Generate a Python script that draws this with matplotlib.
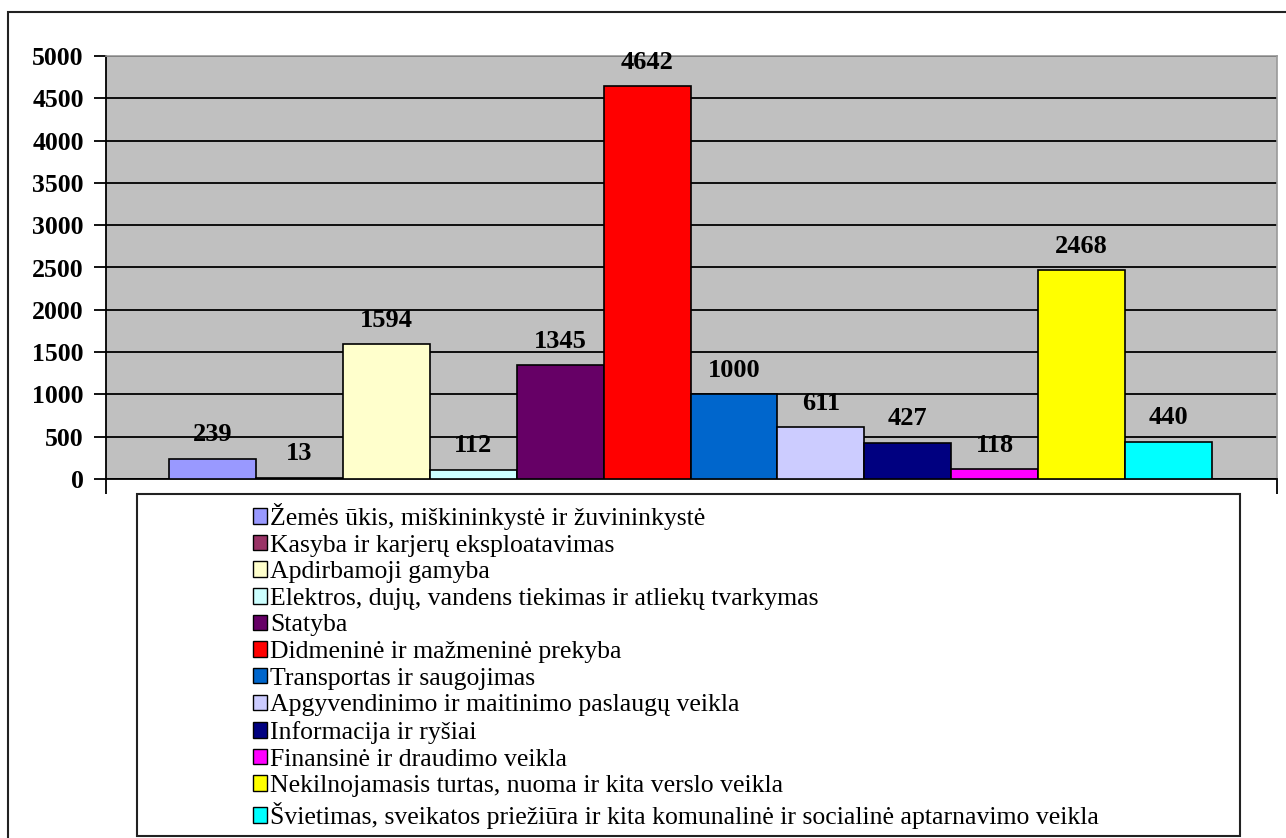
import matplotlib
matplotlib.use("Agg")
import matplotlib.pyplot as plt
from matplotlib.patches import Rectangle, Patch

categories = [
    "Žemės ūkis, miškininkystė ir žuvininkystė",
    "Kasyba ir karjerų eksploatavimas",
    "Apdirbamoji gamyba",
    "Elektros, dujų, vandens tiekimas ir atliekų tvarkymas",
    "Statyba",
    "Didmeninė ir mažmeninė prekyba",
    "Transportas ir saugojimas",
    "Apgyvendinimo ir maitinimo paslaugų veikla",
    "Informacija ir ryšiai",
    "Finansinė ir draudimo veikla",
    "Nekilnojamasis turtas, nuoma ir kita verslo veikla",
    "Švietimas, sveikatos priežiūra ir kita komunalinė ir socialinė aptarnavimo veikla",
]
values = [239, 13, 1594, 112, 1345, 4642, 1000, 611, 427, 118, 2468, 440]
colors = ["#9999FF", "#993366", "#FFFFCC", "#CCFFFF", "#660066", "#FF0000",
          "#0066CC", "#CCCCFF", "#000080", "#FF00FF", "#FFFF00", "#00FFFF"]
yticks = [0, 500, 1000, 1500, 2000, 2500, 3000, 3500, 4000, 4500, 5000]

W, H = 1286, 838
fig = plt.figure(figsize=(W / 100, H / 100), dpi=100)
serif = ["Liberation Serif", "DejaVu Serif"]

# outer frame
fig.patches.append(Rectangle((8 / W, -0.1), 1.2, 1 - 12 / H + 0.1, transform=fig.transFigure,
                             fill=False, edgecolor="#222222", linewidth=1.5, clip_on=False))

left, right, top, bottom = 106, 1277, 56, 479
ax = fig.add_axes([left / W, 1 - bottom / H, (right - left) / W, (bottom - top) / H])
ax.set_facecolor("#C0C0C0")

x = list(range(len(values)))
bars = ax.bar(x, values, width=1.0, color=colors, edgecolor="black", linewidth=1.2, zorder=3)
ax.set_xlim(-0.5 - 63 / 87, 11.5 + 65 / 87)
ax.set_ylim(0, 5000)
ax.set_yticks(yticks)
ax.set_yticklabels([str(t) for t in yticks], fontfamily=serif, fontweight="bold", fontsize=18.5)
ax.yaxis.grid(True, color="black", linewidth=1.3, zorder=1)
ax.set_axisbelow(True)
ax.tick_params(axis="y", direction="out", length=9, width=1.3, pad=7, colors="black")
ax.set_xticks([-0.5 - 63 / 87, 11.5 + 65 / 87])
ax.set_xticklabels(["", ""])
ax.tick_params(axis="x", direction="out", length=11, width=1.3)

for s in ["left", "bottom"]:
    ax.spines[s].set_color("black")
    ax.spines[s].set_linewidth(1.3)
for s in ["top", "right"]:
    ax.spines[s].set_color("#999999")
    ax.spines[s].set_linewidth(1.2)

for xi, v in zip(x, values):
    ax.annotate(str(v), (xi, v), xytext=(0, 9), textcoords="offset points",
                ha="center", va="bottom", fontfamily=serif, fontweight="bold", fontsize=19,
                zorder=5)

# legend box
fig.patches.append(Rectangle((137 / W, 1 - 836 / H), (1240 - 137) / W, (836 - 494) / H,
                             transform=fig.transFigure, fill=True, facecolor="white",
                             edgecolor="#222222", linewidth=1.5))
handles = [Patch(facecolor=c, edgecolor="black", linewidth=1.0) for c in colors]
fig.legend(handles, categories, loc="upper left", bbox_to_anchor=(253 / W, 1 - 503 / H),
           frameon=False, prop={"family": serif, "size": 18.5},
           handlelength=0.55, handleheight=0.55, handletextpad=0.12, labelspacing=0.18,
           borderpad=0, borderaxespad=0)

fig.savefig("out.png", dpi=100, facecolor="white")
